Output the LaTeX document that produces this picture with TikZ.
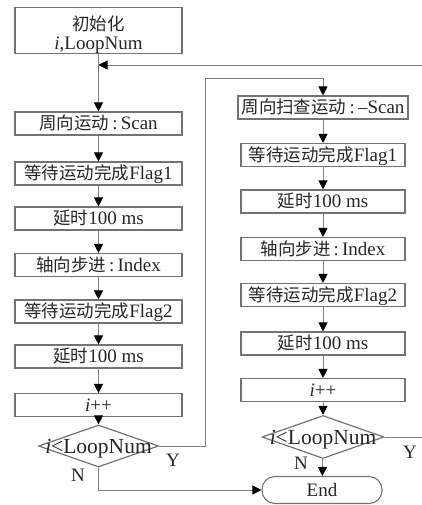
\documentclass[tikz,border=0pt]{standalone}
\usepackage{fontspec}
\setmainfont{Liberation Serif}
\newfontfamily\cjkfont{Noto Sans CJK SC}[Scale=0.92]
\newcommand\zh[1]{{\cjkfont #1}}
\usetikzlibrary{arrows.meta,shapes.geometric}

\tikzset{
  base/.style={font=\fontsize{19}{20}\selectfont, text=black!85},
  stepbox/.style={base, draw=black!55, line width=1.1pt, minimum height=23pt,
    inner sep=0pt, text height=13pt, text depth=0.5pt},
  lbox/.style={stepbox, minimum width=167pt},
  rbox/.style={stepbox, minimum width=164pt},
  decision/.style={base, shape=diamond, draw=black!55, line width=1.2pt,
    minimum width=120pt, minimum height=42pt, inner sep=0pt},
  terminal/.style={base, draw=black!55, line width=1.1pt, rounded corners=13pt,
    minimum width=120pt, minimum height=27pt, inner sep=0pt,
    text height=13pt, text depth=0.5pt},
  flow/.style={draw=black!50, line width=0.9pt,
    -{Triangle[length=9pt,width=9pt,color=black]}},
  lbl/.style={base}
}
% text of a decision node: zero-sized so the diamond keeps its own size
\newcommand\dtext[1]{\makebox[0pt]{\raisebox{-7.5pt}[0pt][0pt]{\fontsize{21.5}{22}\selectfont #1}}}

\begin{document}
\begin{tikzpicture}[x=1pt,y=-1pt]
\useasboundingbox (0,0) rectangle (422,505);

% left column
\node[lbox, minimum height=45pt, align=center, text height=, text depth=] (init) at (98.5,30.5)
  {\rule{0pt}{23pt}\zh{初始化}\\[-1pt]\textit{i},LoopNum};
\node[lbox] (l1) at (98.5,123.5) {\zh{周向运动}\,:\,Scan};
\node[lbox] (l2) at (98.5,173.5) {\zh{等待运动完成}Flag1};
\node[lbox] (l3) at (98.5,218.5) {\zh{延时}100 ms};
\node[lbox] (l4) at (98.5,265) {\zh{轴向步进}\,:\,Index};
\node[lbox] (l5) at (98.5,311.5) {\zh{等待运动完成}Flag2};
\node[lbox] (l6) at (98.5,356.5) {\zh{延时}100 ms};
\node[lbox] (l7) at (98.5,405) {\textit{i}++};
\node[decision] (ld) at (98.5,446) {\dtext{\textit{i}<LoopNum}};

% right column
\node[rbox, minimum width=170pt] (r1) at (323,107.5) {\zh{周向扫查运动}\,:\,–Scan};
\node[rbox] (r2) at (323,155) {\zh{等待运动完成}Flag1};
\node[rbox] (r3) at (323,201.5) {\zh{延时}100 ms};
\node[rbox] (r4) at (323,249) {\zh{轴向步进}\,:\,Index};
\node[rbox] (r5) at (323,295) {\zh{等待运动完成}Flag2};
\node[rbox] (r6) at (323,343.5) {\zh{延时}100 ms};
\node[rbox] (r7) at (323,390) {\textit{i}++};
\node[decision, minimum width=122pt, minimum height=43pt] (rd) at (323,437)
  {\dtext{\textit{i}<LoopNum}};
\node[terminal] (end) at (322,490) {End};

% branch labels
\node[lbl] (ly) at (173,460) {Y};
\node[lbl] (ln) at (78,475) {N};
\node[lbl] (ry) at (410,452) {Y};
\node[lbl] (rn) at (301,463) {N};

% routing points
\coordinate (join) at (98.5,65);
\coordinate (up) at (205,78);
\coordinate (back) at (428,65);

% connectors
\draw[flow] (init) -- (l1);
\foreach \a/\b in {l1/l2,l2/l3,l3/l4,l4/l5,l5/l6,l6/l7,l7/ld,
                   r1/r2,r2/r3,r3/r4,r4/r5,r5/r6,r6/r7,r7/rd,rd/end}
  \draw[flow] (\a) -- (\b);
\draw[flow] (ld.east) -| (up) -| (r1.north);
\draw[flow] (ld.south) |- (end.west);
\draw[flow] (rd.east) -| (back) -- (join);
\end{tikzpicture}
\end{document}
